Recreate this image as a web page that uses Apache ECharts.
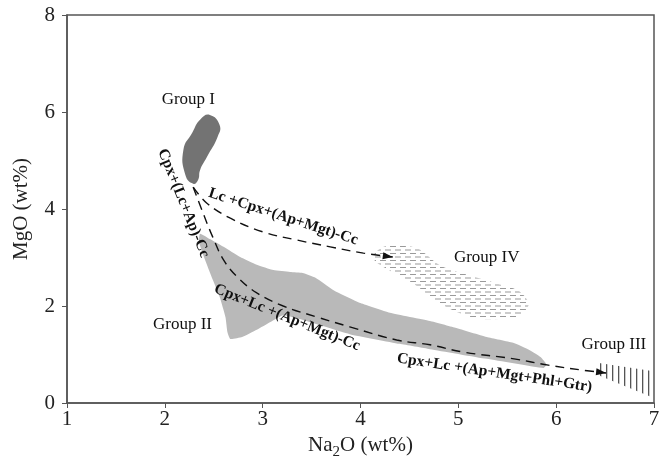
<!DOCTYPE html>
<html>
<head>
<meta charset="utf-8">
<script src="https://cdn.jsdelivr.net/npm/echarts@6/dist/echarts.min.js"></script>
<style>
  html, body { margin: 0; padding: 0; background: #fff; }
  #chart { width: 664px; height: 466px; }
</style>
</head>
<body>
<div id="chart"></div>
<script>
// Na2O (x) vs MgO (y), wt%
const xTicks = [1, 2, 3, 4, 5, 6, 7];
const yTicks = [0, 2, 4, 6, 8];

// Field outlines as [Na2O, MgO] vertices
const groupI = [
  [2.46, 5.94], [2.56, 5.73], [2.54, 5.49], [2.43, 5.07], [2.36, 4.80],
  [2.34, 4.60], [2.29, 4.52], [2.21, 4.70], [2.19, 5.22], [2.28, 5.57], [2.36, 5.84]
];
const groupII = [
  [2.36, 3.49], [2.46, 3.38], [2.60, 3.22], [2.77, 3.01], [2.94, 2.85],
  [3.11, 2.74], [3.28, 2.70], [3.41, 2.68], [3.54, 2.58], [3.72, 2.33],
  [4.00, 2.06], [4.30, 1.86], [4.71, 1.69], [4.97, 1.55], [5.29, 1.36],
  [5.56, 1.24], [5.73, 1.09], [5.84, 0.95], [5.90, 0.80],
  [5.87, 0.72], [5.29, 0.91], [4.71, 1.11], [4.40, 1.22], [3.89, 1.42],
  [3.38, 1.73], [3.21, 1.81], [3.08, 1.67], [2.94, 1.51], [2.79, 1.36],
  [2.67, 1.32], [2.64, 1.46], [2.62, 1.77], [2.56, 2.19], [2.49, 2.54],
  [2.40, 3.01], [2.35, 3.32]
];
const groupIII = [[6.42, 0.83], [6.98, 0.66], [6.98, 0.12], [6.42, 0.58]];
const groupIV = [
  [4.14, 3.07], [4.24, 3.22], [4.40, 3.24], [4.59, 3.18], [4.82, 2.83],
  [5.17, 2.60], [5.45, 2.43], [5.62, 2.31], [5.72, 2.04], [5.63, 1.81],
  [5.52, 1.75], [5.17, 1.75], [4.82, 2.04], [4.55, 2.45], [4.24, 2.80], [4.14, 2.95]
];

// Evolution trends (dashed, ending in arrows)
const trendUpper = [
  [2.29, 4.45], [2.43, 4.12], [2.67, 3.81], [3.00, 3.53], [3.35, 3.36],
  [3.69, 3.22], [4.03, 3.09], [4.33, 3.01]
];
const trendLower = [
  [2.29, 4.45], [2.39, 3.92], [2.49, 3.42], [2.60, 2.95], [2.74, 2.60],
  [2.94, 2.27], [3.21, 2.00], [3.56, 1.77], [3.89, 1.57], [4.37, 1.30],
  [4.71, 1.20], [5.05, 1.05], [5.57, 0.91], [5.92, 0.78], [6.26, 0.68], [6.51, 0.62]
];

// Annotations: [Na2O, MgO, text, angle in degrees]
const groupLabels = [
  [2.24, 6.25, 'Group I', 0],
  [2.18, 1.61, 'Group II', 0],
  [6.59, 1.20, 'Group III', 0],
  [5.29, 2.99, 'Group IV', 0]
];
const trendLabels = [
  [2.19, 4.12, 'Cpx+(Lc+Ap)-Cc', -68],
  [3.21, 3.84, 'Lc +Cpx+(Ap+Mgt)-Cc', -18],
  [3.25, 1.76, 'Cpx+Lc +(Ap+Mgt)-Cc', -22],
  [5.37, 0.62, 'Cpx+Lc +(Ap+Mgt+Phl+Gtr)', -8.5]
];

const SERIF = '"Liberation Serif", "DejaVu Serif", serif';

// Fill patterns
function dashPattern() {
  const c = document.createElement('canvas');
  c.width = 10; c.height = 7;
  const g = c.getContext('2d');
  g.fillStyle = '#9a9a9a';
  g.fillRect(0, 1, 6, 1);
  g.fillRect(5, 4.5, 5, 1);
  g.fillRect(0, 4.5, 1, 1);
  return c;
}
function stripePattern() {
  const c = document.createElement('canvas');
  c.width = 6; c.height = 4;
  const g = c.getContext('2d');
  g.fillStyle = '#555';
  g.fillRect(0, 0, 1.3, 4);
  return c;
}

function fieldSeries(points, fill, smooth) {
  return {
    type: 'custom',
    coordinateSystem: 'cartesian2d',
    data: [0],
    silent: true,
    renderItem: function (params, api) {
      return {
        type: 'polygon',
        shape: { points: points.map(p => api.coord(p)), smooth: smooth },
        style: { fill: fill, stroke: null }
      };
    }
  };
}

function arrowSeries(paths) {
  return {
    type: 'custom',
    coordinateSystem: 'cartesian2d',
    data: paths.map((_, i) => i),
    silent: true,
    z: 5,
    renderItem: function (params, api) {
      const path = paths[params.dataIndex];
      const a = api.coord(path[path.length - 2]);
      const b = api.coord(path[path.length - 1]);
      const ang = Math.atan2(b[1] - a[1], b[0] - a[0]);
      const L = 10, W = 3.5;
      const bx = b[0] - L * Math.cos(ang), by = b[1] - L * Math.sin(ang);
      const nx = -Math.sin(ang) * W, ny = Math.cos(ang) * W;
      return {
        type: 'polygon',
        shape: { points: [b, [bx + nx, by + ny], [bx - nx, by - ny]] },
        style: { fill: '#111' }
      };
    }
  };
}

function textSeries(items, font) {
  return {
    type: 'custom',
    coordinateSystem: 'cartesian2d',
    data: items.map((_, i) => i),
    silent: true,
    z: 6,
    renderItem: function (params, api) {
      const it = items[params.dataIndex];
      const p = api.coord([it[0], it[1]]);
      return {
        type: 'text',
        x: p[0], y: p[1],
        rotation: it[3] * Math.PI / 180,
        style: {
          text: it[2], font: font, fill: '#111',
          align: 'center', verticalAlign: 'middle'
        }
      };
    }
  };
}

function trendLine(data) {
  return {
    type: 'line',
    data: data,
    smooth: 0.4,
    symbol: 'none',
    silent: true,
    z: 4,
    lineStyle: { color: '#111', width: 1.4, type: [9, 6] }
  };
}

const chart = echarts.init(document.getElementById('chart'), null, { renderer: 'canvas' });
chart.setOption({
  animation: false,
  backgroundColor: '#fff',
  grid: {
    left: 67, right: 10, top: 15, bottom: 63,
    show: true, borderColor: '#555', borderWidth: 1.5, backgroundColor: 'transparent'
  },
  xAxis: {
    type: 'value', min: xTicks[0], max: xTicks[xTicks.length - 1], interval: 1,
    name: '{a|Na}{s|2}{a|O (wt%)}',
    nameLocation: 'middle', nameGap: 26,
    nameTextStyle: {
      fontFamily: SERIF, color: '#222',
      rich: {
        a: { fontFamily: SERIF, fontSize: 21, color: '#222', verticalAlign: 'bottom', lineHeight: 24, padding: [0, 0, 4, 0] },
        s: { fontFamily: SERIF, fontSize: 15, color: '#222', verticalAlign: 'bottom', lineHeight: 17 }
      }
    },
    axisLine: { lineStyle: { color: '#555', width: 1.5 } },
    axisTick: { lineStyle: { color: '#555' }, length: 5 },
    axisLabel: { fontFamily: SERIF, fontSize: 21, color: '#222', margin: 6 },
    splitLine: { show: false }
  },
  yAxis: {
    type: 'value', min: yTicks[0], max: yTicks[yTicks.length - 1], interval: 2,
    name: 'MgO (wt%)',
    nameLocation: 'middle', nameGap: 35,
    nameTextStyle: { fontFamily: SERIF, fontSize: 21, color: '#222' },
    axisLine: { lineStyle: { color: '#555', width: 1.5 } },
    axisTick: { lineStyle: { color: '#555' }, length: 5 },
    axisLabel: { fontFamily: SERIF, fontSize: 21, color: '#222', margin: 12 },
    splitLine: { show: false }
  },
  series: [
    fieldSeries(groupII, '#b9b9b9', 0.15),
    fieldSeries(groupI, '#737373', 0.5),
    fieldSeries(groupIV, { image: dashPattern(), repeat: 'repeat' }, 0.3),
    fieldSeries(groupIII, { image: stripePattern(), repeat: 'repeat' }, 0),
    trendLine(trendUpper),
    trendLine(trendLower),
    arrowSeries([trendUpper, trendLower]),
    textSeries(groupLabels, '17px ' + SERIF),
    textSeries(trendLabels, 'bold 15.5px ' + SERIF)
  ]
});
</script>
</body>
</html>
